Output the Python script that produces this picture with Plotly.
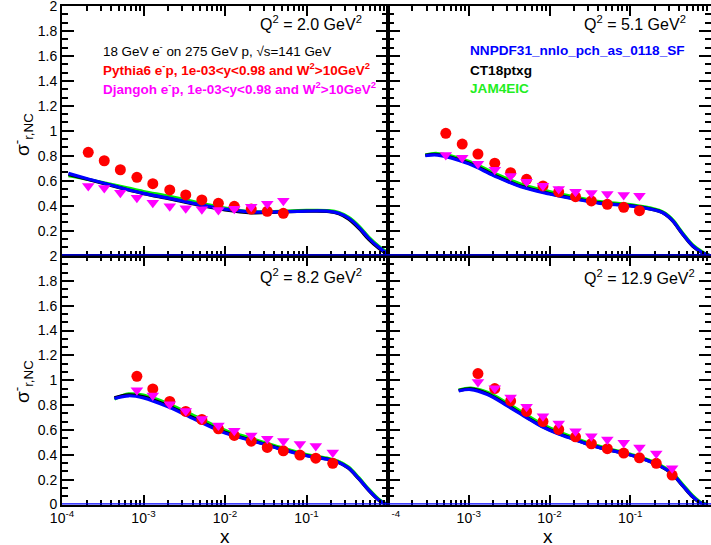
import plotly.graph_objects as go

# ---------------- data ----------------
q2_labels = ["2.0", "5.1", "8.2", "12.9"]

# Pythia6 (red circles) and Djangoh (magenta triangles) points
x_q2_2 = [2.1e-4, 3.3e-4, 5.2e-4, 8.3e-4, 1.3e-3, 2.1e-3, 3.3e-3, 5.2e-3, 8.3e-3, 1.3e-2, 2.1e-2, 3.3e-2, 5.2e-2]
pythia_q2_2 = [0.828, 0.760, 0.688, 0.627, 0.576, 0.526, 0.486, 0.446, 0.419, 0.395, 0.373, 0.355, 0.339]
djangoh_q2_2 = [0.558, 0.542, 0.504, 0.464, 0.424, 0.395, 0.379, 0.371, 0.365, 0.376, 0.392, 0.416, 0.440]

x_q2_5 = [5.2e-4, 8.3e-4, 1.3e-3, 2.1e-3, 3.3e-3, 5.2e-3, 8.3e-3, 1.3e-2, 2.1e-2, 3.3e-2, 5.2e-2, 8.3e-2, 0.13]
pythia_q2_5 = [0.980, 0.894, 0.814, 0.740, 0.664, 0.611, 0.558, 0.510, 0.472, 0.438, 0.411, 0.387, 0.360]
djangoh_q2_5 = [0.806, 0.784, 0.736, 0.688, 0.638, 0.592, 0.560, 0.534, 0.512, 0.502, 0.494, 0.486, 0.480]

x_q2_8 = [8.3e-4, 1.3e-3, 2.1e-3, 3.3e-3, 5.2e-3, 8.3e-3, 1.3e-2, 2.1e-2, 3.3e-2, 5.2e-2, 8.3e-2, 0.13, 0.21]
pythia_q2_8 = [1.032, 0.930, 0.829, 0.749, 0.684, 0.609, 0.556, 0.510, 0.459, 0.432, 0.398, 0.373, 0.331]
djangoh_q2_8 = [0.920, 0.877, 0.807, 0.753, 0.689, 0.636, 0.593, 0.556, 0.529, 0.512, 0.486, 0.470, 0.419]

x_q2_13 = [1.3e-3, 2.1e-3, 3.3e-3, 5.2e-3, 8.3e-3, 1.3e-2, 2.1e-2, 3.3e-2, 5.2e-2, 8.3e-2, 0.13, 0.21, 0.33]
pythia_q2_13 = [1.054, 0.933, 0.834, 0.749, 0.668, 0.604, 0.545, 0.489, 0.449, 0.414, 0.376, 0.331, 0.237]
djangoh_q2_13 = [0.986, 0.936, 0.861, 0.786, 0.711, 0.652, 0.590, 0.550, 0.524, 0.496, 0.459, 0.411, 0.291]

# Theory curves: NNPDF31 (blue), CT18ptxg (black), JAM4EIC (green)
xc_q2_2 = [1.2e-4, 2.1e-4, 5.2e-4, 1.0e-3, 2.1e-3, 5.2e-3, 1.0e-2, 2.1e-2, 3.3e-2, 0.1, 0.19, 0.25, 0.33, 0.44, 0.58, 0.77, 0.97]
nnpdf_q2_2 = [0.659, 0.614, 0.544, 0.499, 0.459, 0.405, 0.373, 0.350, 0.349, 0.357, 0.355, 0.339, 0.299, 0.227, 0.139, 0.066, 0.018]
ct18_q2_2 = [0.650, 0.610, 0.543, 0.497, 0.455, 0.400, 0.366, 0.343, 0.345, 0.356, 0.353, 0.335, 0.292, 0.218, 0.130, 0.058, 0.012]
jam_q2_2 = [0.640, 0.610, 0.556, 0.514, 0.474, 0.417, 0.381, 0.352, 0.351, 0.362, 0.360, 0.345, 0.307, 0.237, 0.149, 0.076, 0.028]

xc_q2_5 = [2.9e-4, 4.1e-4, 1.0e-3, 2.05e-3, 4.4e-3, 1.0e-2, 2.0e-2, 4.2e-2, 0.1, 0.2, 0.25, 0.3, 0.34, 0.45, 0.59, 0.79, 0.95]
nnpdf_q2_5 = [0.800, 0.805, 0.735, 0.640, 0.552, 0.494, 0.454, 0.419, 0.398, 0.365, 0.345, 0.310, 0.275, 0.170, 0.080, 0.022, 0.0]
ct18_q2_5 = [0.803, 0.810, 0.742, 0.646, 0.557, 0.498, 0.458, 0.422, 0.400, 0.366, 0.345, 0.309, 0.273, 0.167, 0.077, 0.020, 0.0]
jam_q2_5 = [0.806, 0.818, 0.756, 0.663, 0.574, 0.513, 0.471, 0.433, 0.408, 0.373, 0.352, 0.318, 0.283, 0.178, 0.088, 0.028, 0.003]

xc_q2_8 = [4.4e-4, 6.6e-4, 1.0e-3, 2.0e-3, 4.3e-3, 1.0e-2, 1.95e-2, 4.1e-2, 0.1, 0.187, 0.245, 0.325, 0.436, 0.58, 0.77, 0.95]
nnpdf_q2_8 = [0.853, 0.875, 0.858, 0.786, 0.684, 0.575, 0.520, 0.459, 0.392, 0.362, 0.340, 0.295, 0.210, 0.116, 0.036, 0.0]
ct18_q2_8 = [0.858, 0.882, 0.866, 0.794, 0.691, 0.581, 0.524, 0.462, 0.394, 0.363, 0.340, 0.293, 0.207, 0.113, 0.034, 0.0]
jam_q2_8 = [0.848, 0.890, 0.880, 0.812, 0.710, 0.598, 0.538, 0.473, 0.402, 0.370, 0.348, 0.303, 0.218, 0.124, 0.043, 0.004]

xc_q2_13 = [7.5e-4, 1.06e-3, 1.7e-3, 3.0e-3, 5.3e-3, 8.0e-3, 1.27e-2, 2.0e-2, 3.2e-2, 5.1e-2, 8.0e-2, 0.13, 0.2, 0.32, 0.45, 0.59, 0.75, 0.86]
nnpdf_q2_13 = [0.914, 0.925, 0.885, 0.794, 0.695, 0.628, 0.570, 0.524, 0.478, 0.443, 0.414, 0.376, 0.331, 0.255, 0.150, 0.065, 0.012, 0.0]
ct18_q2_13 = [0.918, 0.930, 0.891, 0.800, 0.700, 0.632, 0.573, 0.527, 0.480, 0.444, 0.415, 0.377, 0.331, 0.253, 0.147, 0.062, 0.010, 0.0]
jam_q2_13 = [0.921, 0.937, 0.903, 0.816, 0.718, 0.648, 0.587, 0.538, 0.490, 0.452, 0.422, 0.383, 0.338, 0.263, 0.159, 0.073, 0.017, 0.003]

x_tick_vals = [1e-4, 1e-3, 1e-2, 1e-1]
x_tick_text = ["10<sup>-4</sup>", "10<sup>-3</sup>", "10<sup>-2</sup>", "10<sup>-1</sup>"]
x_tick_text_right = ["<span style='color:rgba(255,255,255,0)'>10</span><sup>-4</sup>",
                     "10<sup>-3</sup>", "10<sup>-2</sup>", "10<sup>-1</sup>"]
y_tick_vals_top = [0.2, 0.4, 0.6, 0.8, 1.0, 1.2, 1.4, 1.6, 1.8, 2.0]
y_tick_text_top = ["0.2", "0.4", "0.6", "0.8", "1", "1.2", "1.4", "1.6", "1.8", "2"]
y_tick_vals_bot = [0.0, 0.2, 0.4, 0.6, 0.8, 1.0, 1.2, 1.4, 1.6, 1.8, 2.0]
y_tick_text_bot = ["0", "0.2", "0.4", "0.6", "0.8", "1", "1.2", "1.4", "1.6", "1.8", "2"]

# ---------------- figure ----------------
W, H = 711, 545
FONT = "Liberation Sans, Arial, Helvetica, sans-serif"
BLUE, BLACK, GREEN, RED, MAGENTA = "#0000ff", "#000000", "#00f000", "#ff0000", "#ff00ff"


def px_x(p):
    return p / W


def px_y(p):
    return 1 - p / H


panels = [
    dict(ax="", xp=(x_q2_2, pythia_q2_2, djangoh_q2_2), xc=xc_q2_2, th=(jam_q2_2, ct18_q2_2, nnpdf_q2_2)),
    dict(ax="2", xp=(x_q2_5, pythia_q2_5, djangoh_q2_5), xc=xc_q2_5, th=(jam_q2_5, ct18_q2_5, nnpdf_q2_5)),
    dict(ax="3", xp=(x_q2_8, pythia_q2_8, djangoh_q2_8), xc=xc_q2_8, th=(jam_q2_8, ct18_q2_8, nnpdf_q2_8)),
    dict(ax="4", xp=(x_q2_13, pythia_q2_13, djangoh_q2_13), xc=xc_q2_13, th=(jam_q2_13, ct18_q2_13, nnpdf_q2_13)),
]

fig = go.Figure()
for p in panels:
    xa, ya = "x" + p["ax"], "y" + p["ax"]
    for ys, col in zip(p["th"], (GREEN, BLACK, BLUE)):
        fig.add_trace(go.Scatter(x=p["xc"], y=ys, mode="lines", xaxis=xa, yaxis=ya,
                                 line=dict(color=col, width=3.2, shape="spline", smoothing=1.0),
                                 showlegend=False, hoverinfo="skip"))
    xs, ypy, ydj = p["xp"]
    fig.add_trace(go.Scatter(x=xs, y=ypy, mode="markers", xaxis=xa, yaxis=ya,
                             marker=dict(symbol="circle", size=11, color=RED),
                             showlegend=False))
    fig.add_trace(go.Scatter(x=xs, y=ydj, mode="markers", xaxis=xa, yaxis=ya,
                             marker=dict(symbol="triangle-down", size=11, color=MAGENTA),
                             showlegend=False))

xdom_l = [px_x(62), px_x(388)]
xdom_r = [px_x(388), 1.0]
ydom_t = [px_y(255.6), px_y(6)]
ydom_b = [px_y(504.5), px_y(256)]

axis_common = dict(showline=True, linecolor="black", linewidth=2, mirror="ticks",
                   ticks="inside", tickcolor="black", tickwidth=1.5, showgrid=False,
                   zeroline=False, ticklabeloverflow="allow",
                   tickfont=dict(family=FONT, size=14, color="black"))


def xaxis(dom, anchor, labels, show):
    d = dict(axis_common)
    d.update(type="log", range=[-4, 0], domain=dom, anchor=anchor, ticklen=10,
             tickmode="array", tickvals=x_tick_vals, ticktext=labels, showticklabels=show,
             minor=dict(ticks="inside", ticklen=5, tickwidth=1.5, tickcolor="black",
                        dtick="D1", showgrid=False))
    return d


def yaxis(dom, anchor, vals, text, show):
    d = dict(axis_common)
    d.update(range=[0, 2], domain=dom, anchor=anchor, ticklen=12,
             tickmode="array", tickvals=vals, ticktext=text, showticklabels=show,
             minor=dict(ticks="inside", ticklen=6, tickwidth=1.5, tickcolor="black",
                        tickmode="linear", tick0=0, dtick=0.2 / 3, showgrid=False))
    return d


fig.update_layout(
    width=W, height=H, margin=dict(l=0, r=0, t=0, b=0, autoexpand=False),
    paper_bgcolor="white", plot_bgcolor="white", showlegend=False,
    font=dict(family=FONT, color="black"),
    xaxis=xaxis(xdom_l, "y", x_tick_text, False),
    xaxis2=xaxis(xdom_r, "y2", x_tick_text, False),
    xaxis3=xaxis(xdom_l, "y3", x_tick_text, True),
    xaxis4=xaxis(xdom_r, "y4", x_tick_text_right, True),
    yaxis=yaxis(ydom_t, "x", y_tick_vals_top, y_tick_text_top, True),
    yaxis2=yaxis(ydom_t, "x2", y_tick_vals_top, y_tick_text_top, False),
    yaxis3=yaxis(ydom_b, "x3", y_tick_vals_bot, y_tick_text_bot, True),
    yaxis4=yaxis(ydom_b, "x4", y_tick_vals_bot, y_tick_text_bot, False),
)

# blue baseline at y = 0 in every panel
for sfx in ["", "2", "3", "4"]:
    fig.add_shape(type="line", xref=("x" + sfx + " domain"), yref=("y" + sfx),
                  x0=0, x1=1, y0=0, y1=0, line=dict(color=BLUE, width=2.5), layer="above")

ann = []
# Q^2 labels
q2_pos = [(258, 23), (582, 23), (258, 276), (582, 277)]
for lab, (x0, y0) in zip(q2_labels, q2_pos):
    ann.append(dict(text="Q<sup>2</sup> = " + lab + " GeV<sup>2</sup>", x=px_x(x0), y=px_y(y0),
                    xref="paper", yref="paper", xanchor="left", yanchor="middle",
                    showarrow=False, font=dict(family=FONT, size=16, color="black")))

# top-left text block
ann.append(dict(text="18 GeV e<sup>-</sup> on 275 GeV p, √s=141 GeV", x=px_x(101), y=px_y(50),
                xref="paper", yref="paper", xanchor="left", yanchor="middle", showarrow=False,
                font=dict(family=FONT, size=13.4, color="black")))
ann.append(dict(text="<b>Pythia6 e<sup>-</sup>p, 1e-03&lt;y&lt;0.98 and W<sup>2</sup>&gt;10GeV<sup>2</sup></b>",
                x=px_x(101), y=px_y(69), xref="paper", yref="paper", xanchor="left", yanchor="middle",
                showarrow=False, font=dict(family=FONT, size=13.5, color=RED)))
ann.append(dict(text="<b>Djangoh e<sup>-</sup>p, 1e-03&lt;y&lt;0.98 and W<sup>2</sup>&gt;10GeV<sup>2</sup></b>",
                x=px_x(101), y=px_y(88), xref="paper", yref="paper", xanchor="left", yanchor="middle",
                showarrow=False, font=dict(family=FONT, size=13.5, color=MAGENTA)))

# top-right text block
for txt, col, yy in [("NNPDF31_nnlo_pch_as_0118_SF", BLUE, 50), ("CT18ptxg", BLACK, 70), ("JAM4EIC", "#22ee22", 89)]:
    ann.append(dict(text="<b>" + txt + "</b>", x=px_x(468), y=px_y(yy), xref="paper", yref="paper",
                    xanchor="left", yanchor="middle", showarrow=False,
                    font=dict(family=FONT, size=13.6, color=col)))

# y-axis titles
for yy in (135, 382):
    ann.append(dict(text="σ<sup>-</sup><sub>r,NC</sub>", x=px_x(22), y=px_y(yy), xref="paper", yref="paper",
                    xanchor="center", yanchor="middle", textangle=-90, showarrow=False,
                    font=dict(family=FONT, size=19, color="black")))
# x-axis titles
for xx in (225, 548):
    ann.append(dict(text="x", x=px_x(xx), y=px_y(536), xref="paper", yref="paper",
                    xanchor="center", yanchor="middle", showarrow=False,
                    font=dict(family=FONT, size=19, color="black")))

fig.update_layout(annotations=ann)
fig.write_html("out.html", config={"displayModeBar": False},
               post_script="document.body.style.margin='0';document.body.style.padding='0';"
                           "document.documentElement.style.overflow='hidden';")
